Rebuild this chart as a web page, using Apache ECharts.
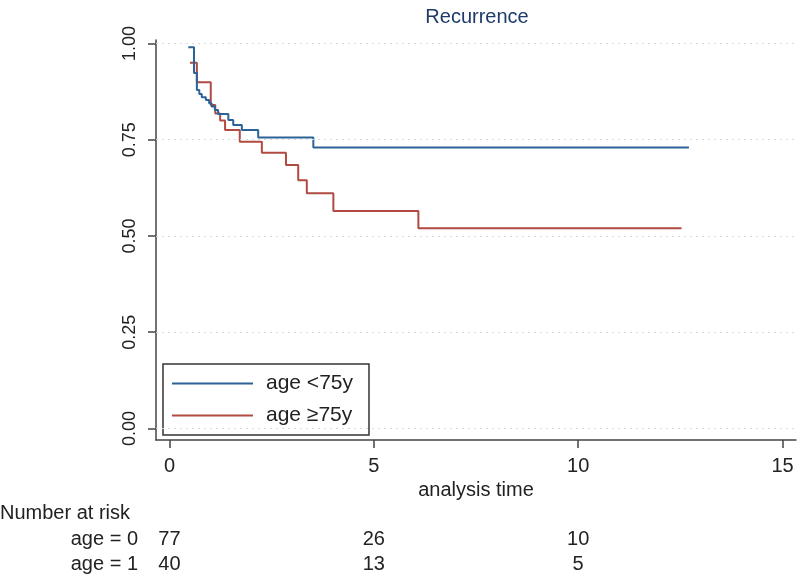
<!DOCTYPE html>
<html>
<head>
<meta charset="utf-8">
<script src="https://cdn.jsdelivr.net/npm/echarts@6/dist/echarts.min.js"></script>
<style>html,body{margin:0;padding:0;background:#fff}#c{width:800px;height:579px}</style>
</head>
<body>
<div id="c"></div>
<script>
// ---- data ----
const blueName = 'age <75y';
const redName = 'age \u226575y';
const blueT = [0.46,0.60,0.67,0.73,0.79,0.89,0.97,1.03,1.11,1.19,1.44,1.56,1.77,2.17,3.52,12.71];
const blueS = [0.990,0.923,0.879,0.869,0.860,0.853,0.845,0.836,0.827,0.817,0.801,0.788,0.775,0.756,0.730,0.730];
const redT = [0.50,0.67,1.01,1.12,1.24,1.36,1.72,2.26,2.85,3.15,3.36,4.01,6.09,12.53];
const redS = [0.950,0.899,0.840,0.818,0.800,0.775,0.745,0.716,0.684,0.645,0.611,0.565,0.520,0.520];
const xTicks = [0, 5, 10, 15];
const yTicks = [0, 0.25, 0.5, 0.75, 1];
const riskTimes = [0, 5, 10];
const riskGroups = ['age = 0', 'age = 1'];
const riskAge0 = [77, 26, 10];
const riskAge1 = [40, 13, 5];

const FONT = 'Liberation Sans, Arial, Helvetica, sans-serif';
const TXT = '#222';
const AX = '#444';
const BLUE = '#2b6396';
const RED = '#b04a42';

const chart = echarts.init(document.getElementById('c'), null, {renderer: 'canvas'});

const zip = (t, s) => t.map((v, i) => [v, s[i]]);
const riskData = [];
riskTimes.forEach((t, i) => {
  riskData.push({value: [t, riskGroups[0]], label: {formatter: String(riskAge0[i])}});
  riskData.push({value: [t, riskGroups[1]], label: {formatter: String(riskAge1[i])}});
});

chart.setOption({
  animation: false,
  backgroundColor: '#fff',
  textStyle: {fontFamily: FONT},
  title: {
    text: 'Recurrence',
    left: 472, top: 2, textAlign: 'center',
    textStyle: {fontFamily: FONT, fontSize: 20, fontWeight: 'normal', color: '#1f3b6a'}
  },
  legend: {
    data: [{name: blueName, icon: 'rect'}, {name: redName, icon: 'rect'}],
    orient: 'vertical',
    left: 163, top: 364,
    padding: [9, 16, 9, 9],
    itemWidth: 81, itemHeight: 2, itemGap: 11,
    borderColor: '#333', borderWidth: 1.5,
    textStyle: {fontFamily: FONT, fontSize: 21, color: TXT, padding: [0, 0, 0, 8]}
  },
  grid: [
    {left: 156, right: 4, top: 40, bottom: 139, containLabel: false},
    {left: 156, right: 4, top: 527, height: 50, containLabel: false}
  ],
  xAxis: [{
    type: 'value', gridIndex: 0,
    min: -0.33, max: 15.33,
    name: 'analysis time', nameLocation: 'middle', nameGap: 40,
    nameTextStyle: {fontFamily: FONT, fontSize: 20, color: TXT},
    axisLine: {onZero: false, lineStyle: {color: AX, width: 1.5}},
    axisTick: {show: true, length: 8, customValues: xTicks, lineStyle: {color: AX, width: 1.5}},
    axisLabel: {customValues: xTicks, fontFamily: FONT, fontSize: 20, color: TXT, margin: 16},
    splitLine: {show: false}
  }, {
    type: 'value', gridIndex: 1,
    min: -0.33, max: 15.33,
    show: false
  }],
  yAxis: [{
    type: 'value', gridIndex: 0,
    min: -0.030, max: 1.009,
    axisLine: {show: true, onZero: false, lineStyle: {color: AX, width: 1.5}},
    axisTick: {show: true, length: 8, customValues: yTicks, lineStyle: {color: AX, width: 1.5}},
    axisLabel: {customValues: yTicks, rotate: 90, fontFamily: FONT, fontSize: 18, color: TXT, margin: 17,
      formatter: v => v.toFixed(2)},
    splitLine: {show: false}
  }, {
    type: 'category', gridIndex: 1,
    data: riskGroups.slice().reverse(),
    axisLine: {show: false}, axisTick: {show: false}, splitLine: {show: false},
    axisLabel: {interval: 0, fontFamily: FONT, fontSize: 20, color: TXT, margin: 18}
  }],
  graphic: [{
    type: 'text', left: 0, top: 503,
    style: {text: 'Number at risk', font: '20px ' + FONT, fill: TXT}
  }],
  series: [{
    name: blueName, type: 'line', step: 'end', xAxisIndex: 0, yAxisIndex: 0,
    data: zip(blueT, blueS), symbol: 'none', color: BLUE,
    lineStyle: {color: BLUE, width: 2},
    markLine: {
      silent: true, symbol: 'none', label: {show: false},
      lineStyle: {type: [2, 4], color: '#d3d9e3', width: 1},
      data: yTicks.map(v => ({yAxis: v}))
    },
    z: 3
  }, {
    name: redName, type: 'line', step: 'end', xAxisIndex: 0, yAxisIndex: 0,
    data: zip(redT, redS), symbol: 'none', color: RED,
    lineStyle: {color: RED, width: 2},
    z: 2
  }, {
    name: 'risk', type: 'scatter', xAxisIndex: 1, yAxisIndex: 1,
    data: riskData, symbolSize: 1, itemStyle: {color: 'rgba(0,0,0,0)'},
    label: {show: true, position: 'inside', fontFamily: FONT, fontSize: 20, color: TXT,
      textBorderWidth: 0, opacity: 1},
    silent: true
  }]
});
</script>
</body>
</html>
